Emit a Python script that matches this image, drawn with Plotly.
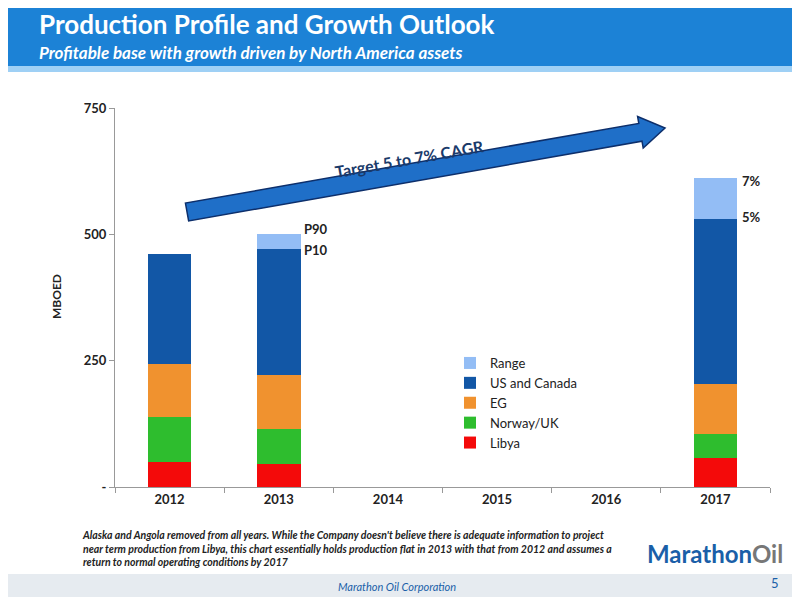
import plotly.graph_objects as go

years = ["2012", "2013", "2014", "2015", "2016", "2017"]
libya = [50, 46, None, None, None, 57]
norway_uk = [89, 69, None, None, None, 48]
eg = [105, 107, None, None, None, 99]
us_canada = [217, 249, None, None, None, 327]
range_ = [None, 30, None, None, None, 81]

series = [
    ("Libya", libya, "#f40a0a"),
    ("Norway/UK", norway_uk, "#2ebd2e"),
    ("EG", eg, "#f0922f"),
    ("US and Canada", us_canada, "#1257a6"),
    ("Range", range_, "#93bdf5"),
]

W, H = 800, 600
DX, DY = -8, -8  # page offset correction


def px(x, y):
    return (x + DX) / W, 1 - (y + DY) / H


fig = go.Figure()
for name, vals, color in series:
    fig.add_trace(go.Bar(x=years, y=vals, name=name, marker_color=color,
                         marker_line_width=0, width=0.4))

# arrow polygon in pixel space
arrow_px = [(188.6, 220.9), (185.4, 203.1), (638.8, 123.4), (637.6, 116.5),
            (665, 128), (643.2, 148.1), (642.0, 141.2)]
pts = [px(x, y) for x, y in arrow_px]
path = "M " + " L ".join(f"{a:.4f},{b:.4f}" for a, b in pts) + " Z"

shapes = [
    dict(type="rect", xref="paper", yref="paper", x0=-0.02, x1=1.02, y0=px(0, 72)[1], y1=1.05,
         fillcolor="#1c82d6", line_width=0, layer="below"),
    dict(type="rect", xref="paper", yref="paper", x0=-0.02, x1=1.02, y0=px(0, 72)[1], y1=px(0, 66)[1],
         fillcolor="#9fd0f5", line_width=0, layer="below"),
    dict(type="rect", xref="paper", yref="paper", x0=-0.02, x1=1.02, y0=px(0, 597)[1], y1=px(0, 574)[1],
         fillcolor="#e6ebf0", line_width=0, layer="below"),
    dict(type="path", xref="paper", yref="paper", path=path,
         fillcolor="#1f6fc8", line=dict(color="#0d2f6b", width=1.5)),
]


def note(text, x, y, size, color="#222", xanchor="center", **kw):
    return dict(text=text, x=px(x, 0)[0], y=px(0, y)[1], xref="paper", yref="paper",
                showarrow=False, xanchor=xanchor, yanchor="middle",
                font=dict(size=size, color=color, family="Lato"), **kw)


annotations = [
    note("<b>Production Profile and Growth Outlook</b>", 37, 24, 26, "white", xanchor="left"),
    note("<b><i>Profitable base with growth driven by North America assets</i></b>", 37, 52, 17,
         "white", xanchor="left"),
    note("<b>Target 5 to 7% CAGR</b>", 410, 158, 16, "#1a3a6a", textangle=-10),
    note("<b>P90</b>", 302, 229, 13, xanchor="left"),
    note("<b>P10</b>", 302, 250, 13, xanchor="left"),
    note("<b>7%</b>", 740, 181, 13, xanchor="left"),
    note("<b>5%</b>", 740, 217, 13, xanchor="left"),
    note("<b><i>Alaska and Angola removed from all years. While the Company doesn't believe there is adequate information to project<br>"
         "near term production from Libya, this chart essentially holds production flat in 2013 with that from 2012 and assumes a<br>"
         "return to normal operating conditions by 2017</i></b>", 80, 548, 10.5, xanchor="left", align="left"),
    note("<b>Marathon</b><span style='color:#777'><b>Oil</b></span>", 715, 553, 24, "#1a5fa8"),
    note("<i>Marathon Oil Corporation</i>", 397, 586, 11, "#1a5fa8"),
    note("5", 775, 583, 13, "#1a5fa8"),
    note("<b>MBOED</b>", 56, 297, 12, textangle=-90),
]

fig.update_layout(
    width=W, height=H, margin=dict(l=0, r=0, t=0, b=0),
    barmode="stack", paper_bgcolor="white", plot_bgcolor="white",
    font=dict(family="Lato", color="#222"),
    shapes=shapes, annotations=annotations,
    xaxis=dict(type="category", domain=[px(115, 0)[0], px(770, 0)[0]], automargin=False,
               showline=True, linecolor="#999", ticks="outside", tickson="boundaries",
               ticklen=5, tickcolor="#999", tickfont=dict(size=13),
               tickprefix="<b>", ticksuffix="</b>"),
    yaxis=dict(domain=[px(0, 487)[1], px(0, 108)[1]], range=[0, 750], automargin=False,
               tickvals=[0, 250, 500, 750], ticktext=["<b>-</b>", "<b>250</b>", "<b>500</b>", "<b>750</b>"],
               showline=True, linecolor="#999", ticks="outside", ticklen=5, tickcolor="#999",
               showgrid=False, tickfont=dict(size=13)),
    legend=dict(x=px(450, 0)[0], y=px(0, 348)[1], xanchor="left", yanchor="top",
                traceorder="reversed", font=dict(size=13), tracegroupgap=0,
                bgcolor="rgba(0,0,0,0)", itemwidth=30),
)
fig.write_html("out.html")
